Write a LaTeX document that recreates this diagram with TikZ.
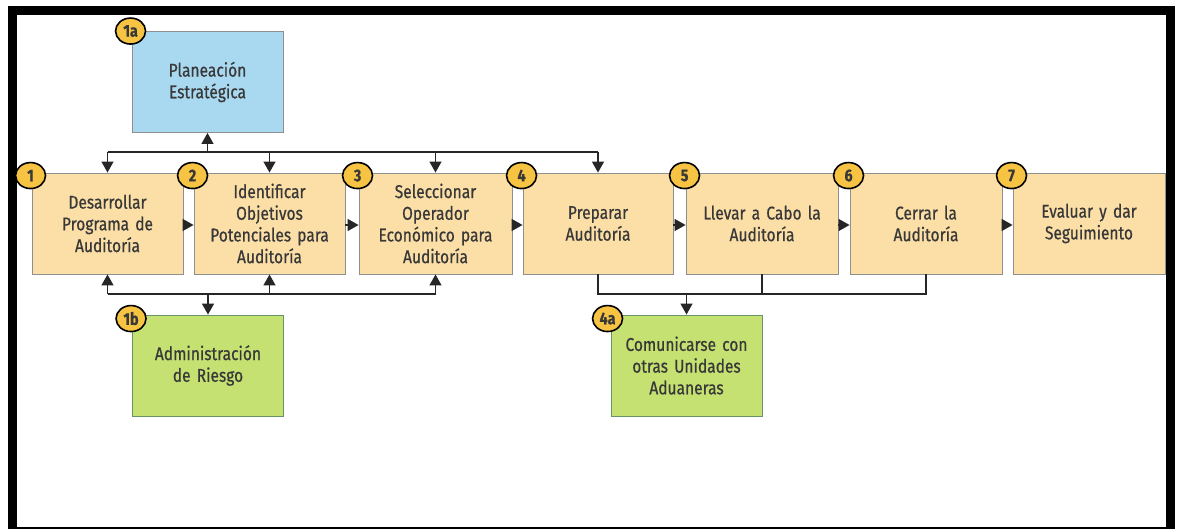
\documentclass[tikz,border=0pt]{standalone}
\usepackage{fontspec}
\setmainfont[FakeStretch=0.84,FakeBold=0.6]{Fira Sans}
\usetikzlibrary{arrows.meta,shapes.geometric}
\definecolor{peach}{HTML}{FCDFA7}
\definecolor{skyb}{HTML}{A9D8F1}
\definecolor{lgreen}{HTML}{C5E171}
\definecolor{badgey}{HTML}{F6C342}
\definecolor{txt}{HTML}{383838}
\definecolor{edge}{HTML}{8F8F8F}
\tikzset{
  stepbox/.style={draw=edge, line width=0.9pt, fill=peach, minimum width=151pt, minimum height=101pt,
    inner sep=0pt, align=center, text width=140pt, text=txt,
    font=\fontsize{18.5}{21.7}\selectfont},
  bluebox/.style={stepbox, fill=skyb},
  greenbox/.style={stepbox, fill=lgreen, draw=green!30!black!60},
  badge/.style={ellipse, draw=black, line width=1.6pt, fill=badgey, minimum width=30pt, minimum height=26pt,
    inner sep=0pt, text=txt, font=\fontsize{17}{17}\selectfont\bfseries},
  conn/.style={line width=1.4pt, draw=black!85},
  arr/.style={conn, -{Triangle[length=11pt,width=12pt]}},
}
\begin{document}
\begin{tikzpicture}[x=1pt,y=-1pt]
\useasboundingbox (0,0) rectangle (1178,529);
% frame
\fill[black] (8,6) rectangle (1175,15);
\fill[black] (8,6) rectangle (17,529);
\fill[black] (1166,6) rectangle (1175,529);
\fill[black] (17,527) rectangle (1166,528.5);

% boxes
\node[bluebox] (pa) at (207.5,82) {Planeación\\Estratégica};
\node[stepbox] (s1) at (107.5,223.5) {Desarrollar\\Programa de\\Auditoría};
\node[stepbox] (s2) at (269.5,223.5) {Identificar\\Objetivos\\Potenciales para\\Auditoría};
\node[stepbox, minimum width=153pt] (s3) at (435.5,223.5) {Seleccionar\\Operador\\Económico para\\Auditoría};
\node[stepbox, minimum width=150pt] (s4) at (598,223.5) {Preparar\\Auditoría};
\node[stepbox, minimum width=152pt] (s5) at (762,223.5) {Llevar a Cabo la\\Auditoría};
\node[stepbox, minimum width=152pt] (s6) at (926,223.5) {Cerrar la\\Auditoría};
\node[stepbox, minimum width=152pt] (s7) at (1089,223.5) {Evaluar y dar\\Seguimiento};
\node[greenbox] (rb) at (208,365.5) {Administración\\de Riesgo};
\node[greenbox] (cu) at (686.5,365.5) {Comunicarse con\\otras Unidades\\Aduaneras};

% badges
\node[badge] (b1a) at ([shift={(-1,0)}]pa.north west) {1a};
\node[badge] (b1) at ([shift={(-1,3)}]s1.north west) {1};
\node[badge] (b2) at ([shift={(-1,3)}]s2.north west) {2};
\node[badge] (b3) at ([shift={(-1,3)}]s3.north west) {3};
\node[badge] (b4) at ([shift={(-1,3)}]s4.north west) {4};
\node[badge] (b5) at ([shift={(-1,3)}]s5.north west) {5};
\node[badge] (b6) at ([shift={(-1,3)}]s6.north west) {6};
\node[badge] (b7) at ([shift={(-1,3)}]s7.north west) {7};
\node[badge] (b1b) at ([shift={(-1,4)}]rb.north west) {1b};
\node[badge] (b4a) at ([shift={(-3,4)}]cu.north west) {4a};

% top bus
\coordinate (tb) at (207.5,152);
\draw[conn] (s1.north |- tb) -- (s4.north |- tb);
\draw[arr] (tb) -- (pa.south);
\foreach \s in {s1,s2,s3,s4} \draw[arr] (\s.north |- tb) -- (\s.north);

% horizontal flow
\foreach \a/\b in {s1/s2,s2/s3,s3/s4,s4/s5,s5/s6,s6/s7}
  \draw[arr] ([yshift=-1.5pt]\a.east) -- ([yshift=-1.5pt]\b.west);

% bottom bus to risk
\coordinate (bb) at (208,294);
\draw[conn] (s1.south |- bb) -- (s3.south |- bb);
\foreach \s in {s1,s2,s3} \draw[arr] (\s.south |- bb) -- (\s.south);
\draw[arr] (bb) -- (rb.north);

% bus to communicate
\coordinate (cb) at (686.5,294);
\draw[conn] (s4.south) -- (s4.south |- cb) -- (s6.south |- cb) -- (s6.south);
\draw[conn] (s5.south) -- (s5.south |- cb);
\draw[arr] (cb) -- (cu.north);
\end{tikzpicture}
\end{document}
